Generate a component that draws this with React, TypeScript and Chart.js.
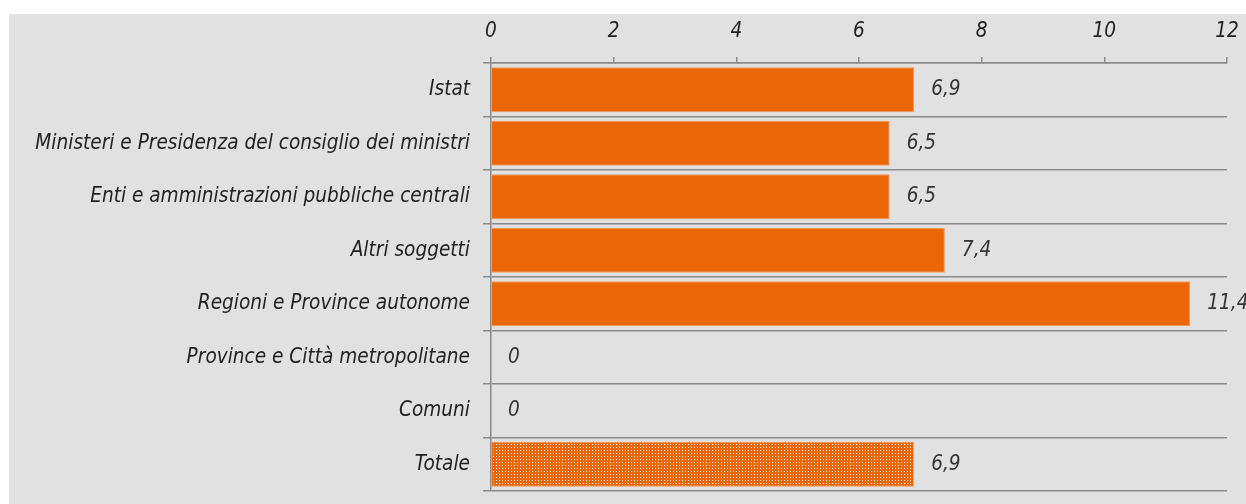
import React, { useEffect, useRef } from 'react';
import { Chart, registerables } from 'chart.js';

Chart.register(...registerables);

const categories = [
  'Istat',
  'Ministeri e Presidenza del consiglio dei ministri',
  'Enti e amministrazioni pubbliche centrali',
  'Altri soggetti',
  'Regioni e Province autonome',
  'Province e Città metropolitane',
  'Comuni',
  'Totale',
];
const values = [6.9, 6.5, 6.5, 7.4, 11.4, 0, 0, 6.9];
const valueLabels = ['6,9', '6,5', '6,5', '7,4', '11,4', '0', '0', '6,9'];
const xMin = 0;
const xMax = 12;
const xStep = 2;

const FONT = "'Liberation Sans Narrow', 'DejaVu Sans Condensed', 'Liberation Sans', sans-serif";
const FONT_SIZE = 20.6;
const ORANGE = '#EA6607';
const GRID = '#8a8a8a';
const W = 1237;
const H = 490;

function makePattern(): CanvasPattern | string {
  const c = document.createElement('canvas');
  c.width = 3;
  c.height = 3;
  const g = c.getContext('2d');
  if (!g) return ORANGE;
  g.fillStyle = ORANGE;
  g.fillRect(0, 0, 3, 3);
  g.fillStyle = '#ffffff';
  g.fillRect(1, 1, 1, 1);
  const p = g.createPattern(c, 'repeat');
  return p || ORANGE;
}

const valueLabelPlugin = {
  id: 'valueLabels',
  afterDatasetsDraw(chart: any) {
    const ctx = chart.ctx;
    const meta = chart.getDatasetMeta(0);
    ctx.save();
    ctx.font = `italic ${FONT_SIZE}px ${FONT}`;
    ctx.fillStyle = '#333333';
    ctx.textAlign = 'left';
    ctx.textBaseline = 'middle';
    meta.data.forEach((bar: any, i: number) => {
      ctx.fillText(valueLabels[i], bar.x + 17, bar.y);
    });
    ctx.restore();
  },
};

export default function App() {
  const ref = useRef<HTMLCanvasElement | null>(null);

  useEffect(() => {
    if (!ref.current) return;
    const pattern = makePattern();
    const bg = values.map((_, i) => (i === values.length - 1 ? pattern : ORANGE));
    const chart = new Chart(ref.current, {
      type: 'bar',
      data: {
        labels: categories,
        datasets: [
          {
            data: values,
            backgroundColor: bg as any,
            borderColor: '#f39a5a',
            borderWidth: 1,
            barPercentage: 0.84,
            categoryPercentage: 1,
          },
        ],
      },
      options: {
        indexAxis: 'y',
        animation: false,
        responsive: false,
        maintainAspectRatio: false,
        devicePixelRatio: 1,
        layout: { padding: { left: 0, right: 19, top: 0, bottom: 13 } },
        plugins: {
          legend: { display: false },
          tooltip: { enabled: false },
        },
        scales: {
          x: {
            position: 'top',
            min: xMin,
            max: xMax,
            ticks: {
              stepSize: xStep,
              color: '#222222',
              font: { family: FONT, size: FONT_SIZE, style: 'italic' },
              padding: 13,
            },
            grid: {
              drawOnChartArea: false,
              drawTicks: true,
              tickLength: 6,
              color: GRID,
              lineWidth: 1.5,
            },
            border: { display: true, color: GRID, width: 1.5 },
            afterFit: (scale: any) => {
              scale.height = 49;
              scale.paddingLeft = 0;
              scale.paddingRight = 0;
            },
          },
          y: {
            type: 'category',
            ticks: {
              color: '#222222',
              font: { family: FONT, size: FONT_SIZE, style: 'italic' },
              padding: 13,
            },
            grid: {
              offset: true,
              drawOnChartArea: true,
              drawTicks: true,
              tickLength: 8,
              color: GRID,
              lineWidth: 1.5,
            },
            border: { display: true, color: GRID, width: 1.5 },
            afterFit: (scale: any) => {
              scale.width = 482;
              scale.paddingTop = 0;
              scale.paddingBottom = 0;
            },
          },
        },
      },
      plugins: [valueLabelPlugin],
    });
    return () => chart.destroy();
  }, []);

  return (
    <div
      style={{
        position: 'absolute',
        left: 9,
        top: 14,
        width: W,
        height: H,
        background: '#e1e1e1',
        overflow: 'hidden',
      }}
    >
      <canvas ref={ref} width={W} height={H} style={{ display: 'block', width: W, height: H }} />
    </div>
  );
}
